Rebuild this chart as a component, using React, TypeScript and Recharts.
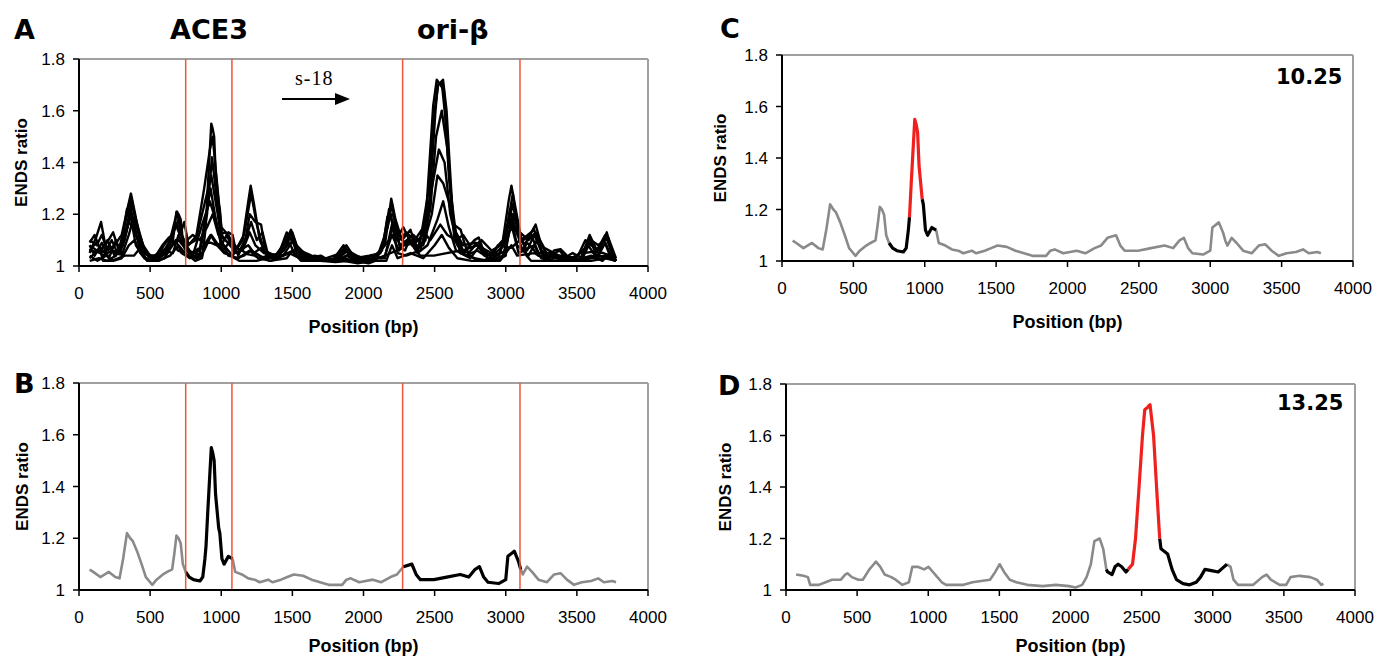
import React from "react";
import { LineChart, Line, XAxis, YAxis, ReferenceLine } from "recharts";

type Pt = [number, number];

const X_TICKS = [0, 500, 1000, 1500, 2000, 2500, 3000, 3500, 4000];
const Y_TICKS = [1, 1.2, 1.4, 1.6, 1.8];
// ACE3 and ori-beta boundaries (bp)
const REGION_LINES = [750, 1075, 2275, 3100];

// replication profile of fraction 10.25 (panels B, C)
const TRACE_1025: Pt[] = [
  [75, 1.079], [100, 1.07], [150, 1.05], [210, 1.07], [255, 1.05], [285, 1.045], [310, 1.12], [337, 1.22],
  [360, 1.2], [377, 1.19], [408, 1.15], [440, 1.1], [470, 1.05], [500, 1.03], [515, 1.02], [545, 1.04],
  [590, 1.06], [620, 1.07], [655, 1.08], [670, 1.14], [685, 1.21], [700, 1.2], [715, 1.18], [730, 1.1],
  [750, 1.07], [775, 1.05], [805, 1.04], [850, 1.035], [870, 1.05], [885, 1.12], [893, 1.17], [905, 1.3],
  [917, 1.42], [930, 1.55], [940, 1.53], [950, 1.5], [960, 1.37], [982, 1.24], [990, 1.22], [1005, 1.12],
  [1020, 1.1], [1050, 1.13], [1080, 1.12], [1098, 1.07], [1145, 1.06], [1190, 1.045], [1235, 1.04], [1270, 1.03],
  [1330, 1.04], [1360, 1.03], [1420, 1.04], [1465, 1.05], [1510, 1.06], [1575, 1.055], [1635, 1.04], [1695, 1.03],
  [1755, 1.02], [1850, 1.02], [1880, 1.04], [1910, 1.045], [1970, 1.03], [2065, 1.04], [2125, 1.03], [2190, 1.05],
  [2235, 1.06], [2280, 1.09], [2340, 1.1], [2370, 1.06], [2400, 1.04], [2495, 1.04], [2585, 1.05], [2680, 1.06],
  [2740, 1.05], [2785, 1.08], [2815, 1.09], [2845, 1.05], [2875, 1.03], [2950, 1.025], [3000, 1.04], [3015, 1.13],
  [3060, 1.15], [3090, 1.11], [3105, 1.08], [3120, 1.06], [3150, 1.09], [3185, 1.07], [3230, 1.04], [3290, 1.03],
  [3340, 1.06], [3385, 1.065], [3430, 1.04], [3480, 1.02], [3535, 1.03], [3600, 1.035], [3650, 1.045], [3690, 1.03],
  [3750, 1.035], [3775, 1.03],
];

// replication profile of fraction 13.25 (panel D)
const TRACE_1325: Pt[] = [
  [71, 1.06], [123, 1.055], [154, 1.05], [170, 1.02], [231, 1.02], [278, 1.03], [324, 1.04], [386, 1.04],
  [416, 1.06], [432, 1.065], [463, 1.05], [509, 1.04], [540, 1.04], [586, 1.08], [617, 1.1], [632, 1.11],
  [663, 1.09], [694, 1.06], [740, 1.05], [771, 1.04], [817, 1.02], [864, 1.03], [888, 1.09], [925, 1.09],
  [971, 1.08], [1002, 1.09], [1033, 1.07], [1064, 1.05], [1095, 1.03], [1126, 1.02], [1249, 1.02], [1311, 1.03],
  [1372, 1.035], [1434, 1.04], [1471, 1.07], [1502, 1.1], [1533, 1.07], [1573, 1.04], [1619, 1.03], [1696, 1.02],
  [1804, 1.015], [1897, 1.02], [1989, 1.015], [2035, 1.01], [2082, 1.02], [2113, 1.05], [2143, 1.1], [2168, 1.19],
  [2205, 1.2], [2230, 1.16], [2252, 1.08], [2261, 1.07], [2292, 1.06], [2313, 1.09], [2335, 1.1], [2360, 1.09],
  [2390, 1.07], [2405, 1.08], [2436, 1.1], [2457, 1.2], [2482, 1.4], [2506, 1.6], [2522, 1.7], [2543, 1.71],
  [2559, 1.72], [2584, 1.6], [2605, 1.4], [2627, 1.2], [2636, 1.16], [2683, 1.14], [2714, 1.08], [2745, 1.04],
  [2791, 1.025], [2837, 1.02], [2884, 1.03], [2914, 1.05], [2945, 1.08], [2991, 1.075], [3038, 1.07], [3069, 1.085],
  [3100, 1.1], [3125, 1.09], [3146, 1.04], [3177, 1.02], [3285, 1.02], [3347, 1.05], [3378, 1.06], [3408, 1.04],
  [3470, 1.02], [3516, 1.02], [3547, 1.05], [3609, 1.055], [3686, 1.05], [3732, 1.04], [3763, 1.02], [3778, 1.025],
];

// other fractions overlaid in panel A
const TRACE_A1: Pt[] = [
  [75, 1.1], [125, 1.08], [160, 1.12], [200, 1.06], [250, 1.08], [300, 1.12], [340, 1.22], [365, 1.28],
  [395, 1.2], [430, 1.1], [480, 1.05], [530, 1.03], [600, 1.05], [650, 1.08], [700, 1.1], [760, 1.06],
  [820, 1.05], [880, 1.08], [925, 1.12], [970, 1.08], [1020, 1.05], [1080, 1.04], [1150, 1.1], [1190, 1.25],
  [1207, 1.31], [1230, 1.24], [1270, 1.1], [1320, 1.04], [1400, 1.03], [1470, 1.12], [1500, 1.13], [1540, 1.06],
  [1620, 1.03], [1700, 1.02], [1800, 1.03], [1870, 1.07], [1920, 1.04], [2000, 1.02], [2100, 1.04], [2170, 1.15],
  [2200, 1.24], [2230, 1.14], [2300, 1.08], [2400, 1.1], [2460, 1.3], [2500, 1.6], [2525, 1.7], [2550, 1.71],
  [2580, 1.55], [2610, 1.3], [2650, 1.12], [2700, 1.06], [2800, 1.08], [2900, 1.05], [2980, 1.1], [3020, 1.25],
  [3040, 1.31], [3070, 1.22], [3110, 1.1], [3200, 1.14], [3250, 1.06], [3350, 1.03], [3450, 1.02], [3550, 1.06],
  [3590, 1.12], [3640, 1.06], [3700, 1.12], [3740, 1.06], [3775, 1.02],
];

const TRACE_A2: Pt[] = [
  [75, 1.05], [120, 1.11], [155, 1.17], [185, 1.08], [240, 1.13], [280, 1.06], [330, 1.18], [370, 1.26],
  [410, 1.14], [460, 1.05], [520, 1.03], [580, 1.04], [640, 1.1], [690, 1.21], [720, 1.12], [760, 1.08],
  [820, 1.1], [880, 1.3], [920, 1.45], [940, 1.5], [965, 1.35], [1000, 1.15], [1050, 1.12], [1100, 1.06],
  [1160, 1.12], [1210, 1.28], [1250, 1.16], [1300, 1.06], [1380, 1.04], [1460, 1.1], [1490, 1.14], [1530, 1.08],
  [1600, 1.04], [1700, 1.03], [1780, 1.02], [1860, 1.08], [1900, 1.05], [2000, 1.03], [2080, 1.03], [2150, 1.08],
  [2195, 1.26], [2225, 1.18], [2270, 1.1], [2330, 1.14], [2380, 1.06], [2440, 1.2], [2490, 1.62], [2515, 1.72],
  [2540, 1.7], [2565, 1.68], [2600, 1.35], [2640, 1.1], [2700, 1.05], [2780, 1.1], [2810, 1.11], [2850, 1.05],
  [2950, 1.04], [3000, 1.12], [3050, 1.28], [3080, 1.15], [3130, 1.08], [3210, 1.16], [3250, 1.08], [3300, 1.04],
  [3400, 1.04], [3500, 1.03], [3560, 1.1], [3600, 1.08], [3660, 1.06], [3710, 1.13], [3750, 1.05], [3775, 1.02],
];

const TRACE_A3: Pt[] = [
  [75, 1.03], [130, 1.06], [170, 1.04], [230, 1.06], [290, 1.05], [340, 1.15], [365, 1.22], [400, 1.12],
  [450, 1.06], [500, 1.03], [560, 1.05], [620, 1.07], [680, 1.16], [710, 1.12], [740, 1.17], [770, 1.08],
  [830, 1.12], [900, 1.28], [930, 1.35], [960, 1.25], [1000, 1.12], [1060, 1.08], [1120, 1.05], [1170, 1.1],
  [1200, 1.2], [1240, 1.17], [1280, 1.16], [1310, 1.06], [1380, 1.03], [1450, 1.07], [1490, 1.12], [1530, 1.05],
  [1620, 1.02], [1740, 1.03], [1840, 1.05], [1880, 1.08], [1940, 1.03], [2040, 1.04], [2120, 1.05], [2190, 1.2],
  [2230, 1.1], [2280, 1.15], [2340, 1.08], [2420, 1.12], [2480, 1.3], [2530, 1.45], [2570, 1.4], [2610, 1.2],
  [2660, 1.08], [2720, 1.04], [2800, 1.06], [2880, 1.03], [2990, 1.08], [3030, 1.22], [3070, 1.14], [3120, 1.1],
  [3180, 1.12], [3230, 1.05], [3320, 1.05], [3400, 1.02], [3500, 1.04], [3580, 1.08], [3640, 1.03], [3700, 1.09],
  [3740, 1.04], [3775, 1.03],
];

const TRACE_A4: Pt[] = [
  [75, 1.08], [110, 1.04], [160, 1.09], [210, 1.03], [260, 1.1], [300, 1.04], [350, 1.12], [380, 1.18],
  [420, 1.08], [470, 1.03], [540, 1.02], [600, 1.06], [660, 1.05], [700, 1.12], [750, 1.06], [800, 1.04],
  [860, 1.15], [920, 1.25], [960, 1.18], [1010, 1.06], [1070, 1.1], [1120, 1.04], [1180, 1.12], [1210, 1.17],
  [1250, 1.1], [1290, 1.13], [1330, 1.04], [1420, 1.05], [1480, 1.09], [1520, 1.04], [1600, 1.03], [1700, 1.04],
  [1760, 1.02], [1850, 1.03], [1950, 1.02], [2050, 1.02], [2150, 1.04], [2200, 1.12], [2250, 1.06], [2320, 1.1],
  [2380, 1.05], [2450, 1.08], [2520, 1.18], [2560, 1.25], [2600, 1.15], [2650, 1.06], [2750, 1.03], [2820, 1.08],
  [2900, 1.03], [3000, 1.06], [3040, 1.18], [3080, 1.08], [3160, 1.04], [3220, 1.1], [3260, 1.04], [3380, 1.03],
  [3480, 1.02], [3600, 1.04], [3680, 1.02], [3730, 1.05], [3775, 1.02],
];

const TRACE_A5: Pt[] = [
  [75, 1.02], [140, 1.03], [200, 1.02], [260, 1.04], [320, 1.1], [360, 1.2], [400, 1.08], [460, 1.03],
  [520, 1.02], [600, 1.03], [680, 1.1], [720, 1.05], [780, 1.03], [850, 1.05], [900, 1.2], [935, 1.42],
  [960, 1.3], [1000, 1.1], [1050, 1.04], [1120, 1.03], [1200, 1.06], [1260, 1.03], [1350, 1.02], [1480, 1.05],
  [1550, 1.03], [1650, 1.02], [1800, 1.02], [1880, 1.04], [1950, 1.02], [2050, 1.03], [2150, 1.03], [2200, 1.16],
  [2240, 1.05], [2300, 1.04], [2400, 1.06], [2470, 1.22], [2510, 1.5], [2550, 1.6], [2590, 1.45], [2630, 1.18],
  [2680, 1.05], [2780, 1.03], [2880, 1.02], [2980, 1.04], [3040, 1.16], [3090, 1.05], [3200, 1.08], [3250, 1.03],
  [3350, 1.02], [3500, 1.02], [3600, 1.03], [3700, 1.04], [3775, 1.02],
];

const TRACE_A6: Pt[] = [
  [75, 1.06], [120, 1.09], [180, 1.05], [230, 1.1], [270, 1.05], [330, 1.14], [370, 1.24], [410, 1.16],
  [450, 1.08], [500, 1.04], [560, 1.03], [620, 1.05], [670, 1.14], [700, 1.18], [730, 1.1], [790, 1.05],
  [850, 1.07], [900, 1.22], [925, 1.3], [955, 1.2], [1000, 1.08], [1040, 1.12], [1090, 1.05], [1150, 1.06],
  [1200, 1.13], [1240, 1.08], [1300, 1.05], [1400, 1.04], [1460, 1.13], [1510, 1.1], [1560, 1.04], [1680, 1.03],
  [1780, 1.02], [1870, 1.06], [1930, 1.03], [2030, 1.02], [2130, 1.06], [2180, 1.22], [2220, 1.12], [2260, 1.08],
  [2350, 1.12], [2420, 1.08], [2480, 1.2], [2520, 1.35], [2560, 1.32], [2600, 1.25], [2640, 1.14], [2700, 1.08],
  [2790, 1.09], [2850, 1.04], [2960, 1.05], [3010, 1.15], [3050, 1.24], [3090, 1.12], [3150, 1.06], [3200, 1.12],
  [3260, 1.05], [3330, 1.03], [3420, 1.04], [3520, 1.02], [3590, 1.11], [3630, 1.05], [3690, 1.1], [3740, 1.03],
  [3775, 1.03],
];

const TRACE_A7: Pt[] = [
  [75, 1.09], [110, 1.12], [150, 1.06], [200, 1.1], [250, 1.04], [310, 1.08], [350, 1.17], [390, 1.14],
  [440, 1.06], [490, 1.04], [550, 1.04], [610, 1.09], [650, 1.12], [690, 1.16], [740, 1.09], [800, 1.12],
  [850, 1.1], [900, 1.15], [940, 1.2], [980, 1.12], [1030, 1.13], [1080, 1.09], [1130, 1.06], [1190, 1.08],
  [1230, 1.05], [1280, 1.07], [1350, 1.03], [1440, 1.06], [1480, 1.11], [1530, 1.07], [1580, 1.03], [1660, 1.04],
  [1720, 1.03], [1800, 1.02], [1890, 1.06], [1950, 1.04], [2020, 1.02], [2100, 1.05], [2180, 1.1], [2210, 1.17],
  [2250, 1.1], [2300, 1.13], [2360, 1.1], [2410, 1.14], [2470, 1.1], [2540, 1.16], [2590, 1.12], [2650, 1.1],
  [2700, 1.12], [2760, 1.07], [2830, 1.1], [2900, 1.06], [2970, 1.08], [3050, 1.2], [3100, 1.13], [3160, 1.1],
  [3210, 1.13], [3270, 1.07], [3340, 1.05], [3410, 1.03], [3470, 1.05], [3540, 1.03], [3600, 1.1], [3650, 1.08],
  [3720, 1.11], [3775, 1.03],
];

const TRACE_A8: Pt[] = [
  [75, 1.04], [130, 1.02], [190, 1.04], [240, 1.02], [300, 1.03], [350, 1.08], [390, 1.1], [430, 1.05],
  [480, 1.02], [560, 1.02], [640, 1.04], [700, 1.08], [760, 1.04], [830, 1.03], [880, 1.06], [930, 1.12],
  [980, 1.08], [1030, 1.05], [1100, 1.03], [1160, 1.04], [1210, 1.06], [1270, 1.04], [1340, 1.02], [1460, 1.03],
  [1500, 1.06], [1560, 1.02], [1700, 1.02], [1860, 1.02], [1960, 1.01], [2060, 1.02], [2160, 1.02], [2200, 1.08],
  [2240, 1.03], [2330, 1.05], [2420, 1.03], [2500, 1.08], [2550, 1.12], [2600, 1.07], [2660, 1.03], [2760, 1.02],
  [2860, 1.02], [2960, 1.02], [3040, 1.08], [3080, 1.04], [3200, 1.05], [3300, 1.02], [3450, 1.02], [3600, 1.02],
  [3700, 1.03], [3775, 1.02],
];

const GRAY = "#8a8a8a";
const BLACK = "#000000";
const RED = "#f0201e";
const RED_LINE = "#f0553c";
const FRAME = "#a0a0a0";
const SANS = "'Liberation Sans', Arial, sans-serif";
const WIDE = "'DejaVu Sans', Verdana, sans-serif";

type Series = { data: { x: number; y: number }[]; color: string; width: number };

const seg = (trace: Pt[], from: number, to: number) =>
  trace.filter(([x]) => x >= from && x <= to).map(([x, y]) => ({ x, y }));

const all = (trace: Pt[]) => seg(trace, 0, 4000);

const YW = 79;
const MT = 30;
const MR = 20;
const XH = 72;

function Panel({
  left,
  top,
  w,
  h,
  yLabelX,
  titleOffset,
  series,
  regions,
}: {
  left: number;
  top: number;
  w: number;
  h: number;
  yLabelX: number;
  titleOffset: number;
  series: Series[];
  regions: boolean;
}) {
  return (
    <div style={{ position: "absolute", left: left - YW, top: top - MT }}>
      <LineChart width={w + YW + MR} height={h + MT + XH} margin={{ top: MT, right: MR, left: 0, bottom: 0 }}>
        <XAxis
          type="number"
          dataKey="x"
          domain={[0, 4000]}
          ticks={X_TICKS}
          interval={0}
          allowDataOverflow
          height={XH}
          axisLine={{ stroke: BLACK, strokeWidth: 2 }}
          tickLine={{ stroke: BLACK, strokeWidth: 1.5 }}
          tickSize={6}
          tickMargin={15}
          tick={{ fill: BLACK, fontSize: 17, fontFamily: SANS }}
          label={{
            value: "Position (bp)",
            position: "insideBottom",
            offset: titleOffset,
            style: { fill: BLACK, fontSize: 18, fontWeight: 700, fontFamily: SANS },
          }}
        />
        <YAxis
          type="number"
          domain={[1, 1.8]}
          ticks={Y_TICKS}
          interval={0}
          allowDataOverflow
          width={YW}
          axisLine={{ stroke: BLACK, strokeWidth: 2 }}
          tickLine={{ stroke: BLACK, strokeWidth: 1.5 }}
          tickSize={6}
          tickMargin={8}
          tick={{ fill: BLACK, fontSize: 17, fontFamily: SANS }}
          tickFormatter={(v: number) => (v === 1 ? "1" : v.toFixed(1))}
          label={{
            value: "ENDS ratio",
            angle: -90,
            position: "insideLeft",
            offset: yLabelX,
            style: { textAnchor: "middle", fill: BLACK, fontSize: 17, fontWeight: 700, fontFamily: SANS },
          }}
        />
        <ReferenceLine y={1.8} stroke={FRAME} strokeWidth={2} />
        <ReferenceLine x={4000} stroke={FRAME} strokeWidth={2} />
        {series.map((s, i) => (
          <Line
            key={i}
            data={s.data}
            dataKey="y"
            type="linear"
            stroke={s.color}
            strokeWidth={s.width}
            strokeLinejoin="round"
            dot={false}
            activeDot={false}
            isAnimationActive={false}
          />
        ))}
        {regions &&
          REGION_LINES.map((x) => <ReferenceLine key={x} x={x} stroke={RED_LINE} strokeWidth={1.5} />)}
      </LineChart>
    </div>
  );
}

function Tag({
  x,
  y,
  size,
  family = WIDE,
  weight = 700,
  children,
  spacing = 0,
}: {
  x: number;
  y: number;
  size: number;
  family?: string;
  weight?: number;
  children: React.ReactNode;
  spacing?: number;
}) {
  return (
    <div
      style={{
        position: "absolute",
        left: x,
        top: y,
        transform: "translateY(-50%)",
        fontSize: size,
        fontFamily: family,
        fontWeight: weight,
        letterSpacing: spacing,
        lineHeight: 1,
        whiteSpace: "nowrap",
        color: "#000",
      }}
    >
      {children}
    </div>
  );
}

const panelA: Series[] = [
  TRACE_A1, TRACE_A2, TRACE_A3, TRACE_A4, TRACE_A5, TRACE_A6, TRACE_A7, TRACE_A8, TRACE_1025, TRACE_1325,
].map((t) => ({ data: all(t), color: BLACK, width: 2.4 }));

const panelB: Series[] = [
  { data: seg(TRACE_1025, 0, 750), color: GRAY, width: 2.6 },
  { data: seg(TRACE_1025, 1080, 2280), color: GRAY, width: 2.6 },
  { data: seg(TRACE_1025, 3105, 4000), color: GRAY, width: 2.6 },
  { data: seg(TRACE_1025, 750, 1080), color: BLACK, width: 3.2 },
  { data: seg(TRACE_1025, 2280, 3105), color: BLACK, width: 3.2 },
];

const panelC: Series[] = [
  { data: seg(TRACE_1025, 0, 750), color: GRAY, width: 2.6 },
  { data: seg(TRACE_1025, 1080, 4000), color: GRAY, width: 2.6 },
  { data: seg(TRACE_1025, 750, 893), color: BLACK, width: 3.2 },
  { data: seg(TRACE_1025, 982, 1080), color: BLACK, width: 3.2 },
  { data: seg(TRACE_1025, 893, 982), color: RED, width: 3.2 },
];

const panelD: Series[] = [
  { data: seg(TRACE_1325, 0, 2252), color: GRAY, width: 2.6 },
  { data: seg(TRACE_1325, 3100, 4000), color: GRAY, width: 2.6 },
  { data: seg(TRACE_1325, 2252, 2405), color: BLACK, width: 3.2 },
  { data: seg(TRACE_1325, 2627, 3100), color: BLACK, width: 3.2 },
  { data: seg(TRACE_1325, 2405, 2627), color: RED, width: 3.2 },
];

export default function App() {
  return (
    <div
      style={{
        position: "relative",
        width: 1387,
        height: 659,
        overflow: "hidden",
        background: "#fff",
        fontFamily: SANS,
      }}
    >
      <style>{"body{margin:0}"}</style>
      <Panel left={79} top={59} w={569} h={207} yLabelX={21} titleOffset={5} series={panelA} regions />
      <Panel left={79} top={383} w={569} h={207} yLabelX={22} titleOffset={10} series={panelB} regions />
      <Panel left={782} top={55} w={571} h={206} yLabelX={17} titleOffset={5} series={panelC} regions={false} />
      <Panel left={786} top={384} w={569} h={206} yLabelX={18} titleOffset={10} series={panelD} regions={false} />

      <Tag x={14} y={29} size={27}>A</Tag>
      <Tag x={170} y={29} size={27}>ACE3</Tag>
      <Tag x={417} y={29} size={27}>ori-β</Tag>
      <Tag x={295} y={78} size={20} weight={400} family="'Liberation Serif', 'Times New Roman', serif" spacing={1}>
        s-18
      </Tag>
      <svg style={{ position: "absolute", left: 280, top: 92 }} width={72} height={14}>
        <line x1={2} y1={7} x2={58} y2={7} stroke="#000" strokeWidth={2} />
        <polygon points="55,1 70,7 55,13" fill="#000" />
      </svg>
      <Tag x={14} y={383} size={27}>B</Tag>
      <Tag x={720} y={28} size={27}>C</Tag>
      <Tag x={718} y={385} size={27}>D</Tag>
      <Tag x={1276} y={77} size={21}>10.25</Tag>
      <Tag x={1277} y={403} size={21}>13.25</Tag>
    </div>
  );
}
